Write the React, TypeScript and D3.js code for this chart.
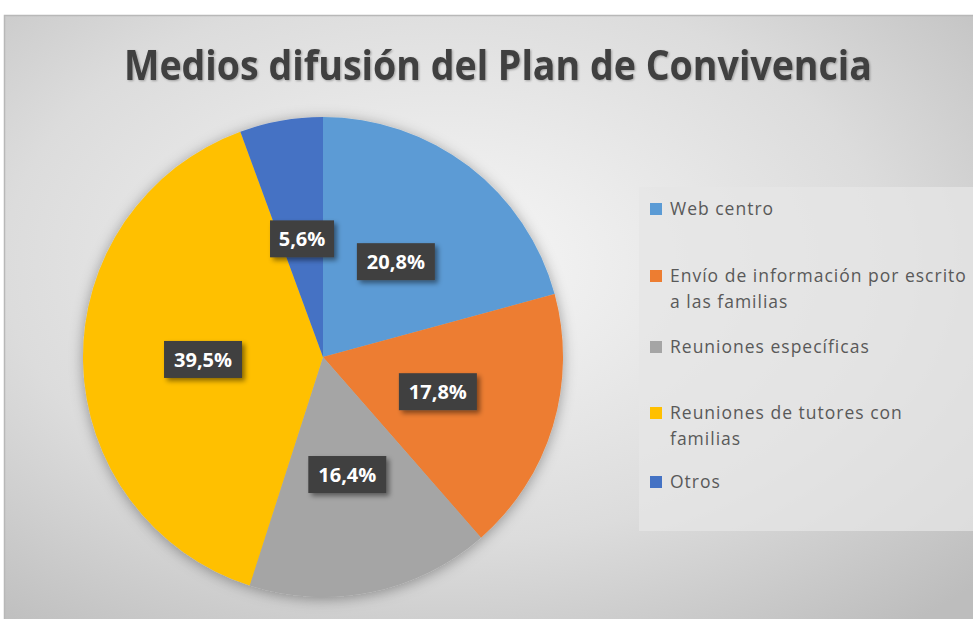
import React from "react";
import * as d3 from "d3";

const categories = [
  "Web centro",
  "Envío de información por escrito a las familias",
  "Reuniones específicas",
  "Reuniones de tutores con familias",
  "Otros",
];
const values = [20.8, 17.8, 16.4, 39.5, 5.6];
const valueLabels = ["20,8%", "17,8%", "16,4%", "39,5%", "5,6%"];
const legendLines = [
  ["Web centro"],
  ["Envío de información por escrito", "a las familias"],
  ["Reuniones específicas"],
  ["Reuniones de tutores con", "familias"],
  ["Otros"],
];
const colors = ["#5B9BD5", "#ED7D31", "#A5A5A5", "#FFC000", "#4472C4"];
const title = "Medios difusión del Plan de Convivencia";

export default function App() {
  const W = 973, H = 619;
  const cx = 323, cy = 357, r = 240;
  const pie = d3.pie<number>().sort(null).value((d) => d);
  const arcs = pie(values);
  const arc = d3.arc<d3.PieArcDefaultObject<number>>().innerRadius(0).outerRadius(r);
  const legendY = [209, 276, 347, 413, 482];
  return (
    <svg width={W} height={H} style={{ position: "absolute", left: 0, top: 0 }}
      fontFamily="'Open Sans', sans-serif">
      <defs>
        <radialGradient id="bg" cx="45%" cy="40%" r="75%">
          <stop offset="0%" stopColor="#f7f7f7" />
          <stop offset="60%" stopColor="#dcdcdc" />
          <stop offset="100%" stopColor="#bdbdbd" />
        </radialGradient>
        <filter id="pieShadow" x="-20%" y="-20%" width="140%" height="140%">
          <feDropShadow dx="0" dy="2" stdDeviation="7" floodColor="#000" floodOpacity="0.35" />
        </filter>
        <filter id="boxShadow" x="-30%" y="-30%" width="160%" height="160%">
          <feDropShadow dx="3" dy="3" stdDeviation="2.5" floodColor="#000" floodOpacity="0.45" />
        </filter>
        <filter id="titleShadow" x="-10%" y="-30%" width="120%" height="160%">
          <feDropShadow dx="1" dy="1" stdDeviation="1" floodColor="#000" floodOpacity="0.3" />
        </filter>
      </defs>
      <rect x={0} y={0} width={W} height={H} fill="#fff" />
      <rect x={4.5} y={15.5} width={980} height={620} fill="url(#bg)" stroke="#b8b8b8" strokeWidth={1.5} />
      <text x={498} y={80} textAnchor="middle" fontSize={42} fontWeight="bold"
        fill="#404040" textLength={748} lengthAdjust="spacingAndGlyphs"
        filter="url(#titleShadow)">{title}</text>
      <rect x={639} y={187} width={334} height={344} fill="#e6e6e6" opacity={0.75} />
      <g transform={`translate(${cx},${cy})`}>
        <g filter="url(#pieShadow)">
          {arcs.map((a, i) => (
            <path key={categories[i]} d={arc(a) || ""} fill={colors[i]} />
          ))}
        </g>
        {arcs.map((a, i) => {
          const [x, y] = arc.centroid(a);
          const w = valueLabels[i].length > 4 ? 78 : 64;
          return (
            <g key={"l" + i} transform={`translate(${x},${y})`}>
              <rect x={-w / 2} y={-18.5} width={w} height={37} fill="#404040" filter="url(#boxShadow)" />
              <text x={0} y={7.5} textAnchor="middle" fontSize={20} fontWeight="bold" fill="#fff">
                {valueLabels[i]}
              </text>
            </g>
          );
        })}
      </g>
      {legendLines.map((lines, i) => (
        <g key={"lg" + i}>
          <rect x={650} y={legendY[i] - 6} width={12} height={12} fill={colors[i]} />
          {lines.map((ln, j) => (
            <text key={j} x={670} y={legendY[i] + 6 + j * 26} fontSize={17.5} fill="#595959"
              letterSpacing={1}>
              {ln}
            </text>
          ))}
        </g>
      ))}
    </svg>
  );
}
